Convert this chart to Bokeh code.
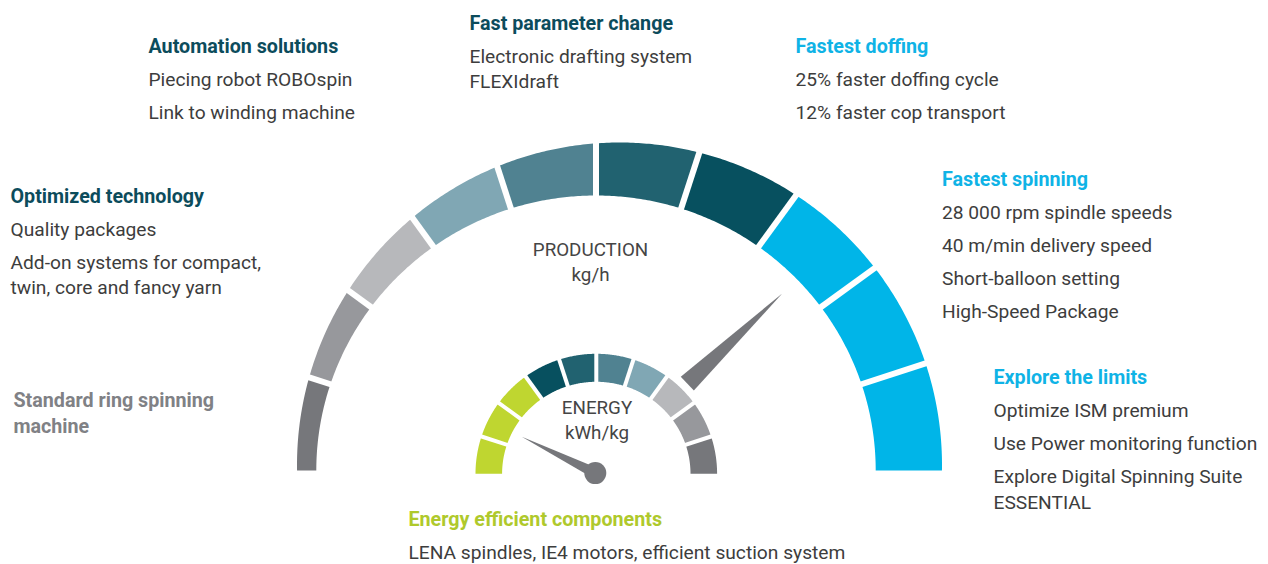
import numpy as np
from bokeh.plotting import figure
from bokeh.models import Range1d
from bokeh.core.properties import value
from bokeh.embed import file_html
from bokeh.resources import INLINE

# ---------------- data ----------------
production_colors = ["#76777b", "#97989c", "#b7b8bb", "#80a7b4", "#508291",
                     "#216270", "#07505f", "#00b5e8", "#00b5e8", "#00b5e8"]
energy_colors = ["#bfd630", "#bfd630", "#bfd630", "#07505f", "#216270",
                 "#508291", "#80a7b4", "#b7b8bb", "#97989c", "#76777b"]
production_level = 7.58   # needle position on the 10-segment scale
energy_level = 1.46

gauge_labels = ["PRODUCTION\nkg/h", "ENERGY\nkWh/kg"]

headings = ["Automation solutions", "Fast parameter change", "Fastest doffing",
            "Optimized technology", "Standard ring spinning\nmachine",
            "Fastest spinning", "Explore the limits", "Energy efficient components"]
heading_kind = ["teal", "teal", "cyan", "teal", "gray", "cyan", "cyan", "lime"]
items = [
    ["Piecing robot ROBOspin", "Link to winding machine"],
    ["Electronic drafting system\nFLEXIdraft"],
    ["25% faster doffing cycle", "12% faster cop transport"],
    ["Quality packages", "Add-on systems for compact,\ntwin, core and fancy yarn"],
    [],
    ["28 000 rpm spindle speeds", "40 m/min delivery speed",
     "Short-balloon setting", "High-Speed Package"],
    ["Optimize ISM premium", "Use Power monitoring function",
     "Explore Digital Spinning Suite\nESSENTIAL"],
    ["LENA spindles, IE4 motors, efficient suction system"],
]

# ---------------- layout / style ----------------
kind_color = {"teal": "#0c4c5c", "cyan": "#0fb3e6", "gray": "#808185", "lime": "#afc92c"}
body_color = "#3d3d3d"
group_x = [148, 469, 795, 10, 13, 941.5, 993, 408]
group_y = [45.5, 22.5, 45.5, 195.5, 400, 178.5, 376.5, 518.5]
FONT = "Roboto"
HEAD_SIZE = "19.7px"
BODY_SIZE = "19.2px"
ITEM_GAP, ITEM_STEP, WRAP_STEP = 33.0, 33.3, 25.5

W, H = 1268, 564
p = figure(width=W, height=H, x_range=Range1d(0, W), y_range=Range1d(H, 0),
           x_axis_type=None, y_axis_type=None, output_backend="svg",
           toolbar_location=None, min_border=0, outline_line_color=None)
p.grid.visible = False


def outer_circle_r(theta, c, o, R):
    ux, uy = np.cos(theta), -np.sin(theta)
    dx, dy = o[0] - c[0], o[1] - c[1]
    b = ux * dx + uy * dy
    return b + np.sqrt(b * b - (dx * dx + dy * dy) + R * R)


def gauge(colors, c, r_in, r_out_fn, gap):
    n = len(colors)
    xs, ys = [], []
    for i in range(n):
        th = np.radians(np.linspace(180 - 180 * i / n, 180 - 180 * (i + 1) / n, 40))
        ro = r_out_fn(th)
        rix, riy = r_in
        ox = c[0] + ro * np.cos(th)
        oy = c[1] - ro * np.sin(th)
        ix = c[0] + rix * np.cos(th[::-1])
        iy = c[1] - riy * np.sin(th[::-1])
        xs.append(list(np.concatenate([ox, ix])))
        ys.append(list(np.concatenate([oy, iy])))
    p.patches(xs=xs, ys=ys, fill_color=colors, line_color=None)
    # white separators
    gx, gy = [], []
    for k in range(1, n):
        th = np.radians(180 - 180 * k / n)
        r0 = min(r_in) - 4
        r1 = float(r_out_fn(np.array([th]))[0]) + 4
        gx.append([c[0] + r0 * np.cos(th), c[0] + r1 * np.cos(th)])
        gy.append([c[1] - r0 * np.sin(th), c[1] - r1 * np.sin(th)])
    p.multi_line(xs=gx, ys=gy, line_color="white", line_width=gap)


# big production gauge
CB = (595.5, 470.0)
gauge(production_colors, CB, (279.7, 275.0),
      lambda th: outer_circle_r(th, CB, (619.0, 464.5), 322.5), 6)

# small energy gauge
CS = (595.8, 473.3)
gauge(energy_colors, CS, (94.2, 92.0),
      lambda th: np.sqrt((120.8 * np.cos(th)) ** 2 + (120.0 * np.sin(th)) ** 2), 4)

needle_color = "#76777b"
# production needle
a = np.radians(180 - 180 * production_level / 10)
u = np.array([np.cos(a), -np.sin(a)])
nrm = np.array([np.sin(a), np.cos(a)])
base = np.array(CB) + 126 * u
tip = np.array(CB) + 257 * u
pts = [base + 9.5 * nrm, tip, base - 9.5 * nrm]
p.patch(x=[q[0] for q in pts], y=[q[1] for q in pts], fill_color=needle_color, line_color=None)

# energy needle
hub = (594.8, 472.6)
a = np.radians(180 - 180 * energy_level / 10)
u = np.array([np.cos(a), -np.sin(a)])
nrm = np.array([np.sin(a), np.cos(a)])
h = np.array(hub)
tip = h + 82 * u
pts = [h + 5.5 * nrm, tip, h - 5.5 * nrm]
p.patch(x=[q[0] for q in pts], y=[q[1] for q in pts], fill_color=needle_color, line_color=None)
p.scatter(x=[hub[0]], y=[hub[1]], size=22, marker="circle", fill_color=needle_color, line_color=None)

# gauge labels
lab_pos = [(590.0, 249.5), (596.5, 407.0)]
lx, ly, lt = [], [], []
for lab, (x0, y0) in zip(gauge_labels, lab_pos):
    for j, line in enumerate(lab.split("\n")):
        lx.append(x0); ly.append(y0 + 25 * j); lt.append(line)
p.text(x=lx, y=ly, text=lt, text_font=value(FONT), text_font_size="18.8px",
       text_color="#454545", text_align="center", text_baseline="alphabetic")

# headings and items
hx, hy, ht, hc = [], [], [], []
bx, by, bt = [], [], []
for g, head in enumerate(headings):
    x0, y0 = group_x[g], group_y[g]
    for j, line in enumerate(head.split("\n")):
        hx.append(x0); hy.append(y0 + WRAP_STEP * j); ht.append(line)
        hc.append(kind_color[heading_kind[g]])
    yi = y0 + ITEM_GAP
    for it in items[g]:
        for j, line in enumerate(it.split("\n")):
            bx.append(x0); by.append(yi + WRAP_STEP * j); bt.append(line)
        yi += ITEM_STEP
p.text(x=hx, y=hy, text=ht, text_color=hc, text_font=value(FONT), text_font_size=HEAD_SIZE,
       text_font_style="bold", text_align="left", text_baseline="alphabetic")
p.text(x=bx, y=by, text=bt, text_color=body_color, text_font=value(FONT),
       text_font_size=BODY_SIZE, text_align="left", text_baseline="alphabetic")

open("out.html", "w").write(file_html(p, INLINE))
